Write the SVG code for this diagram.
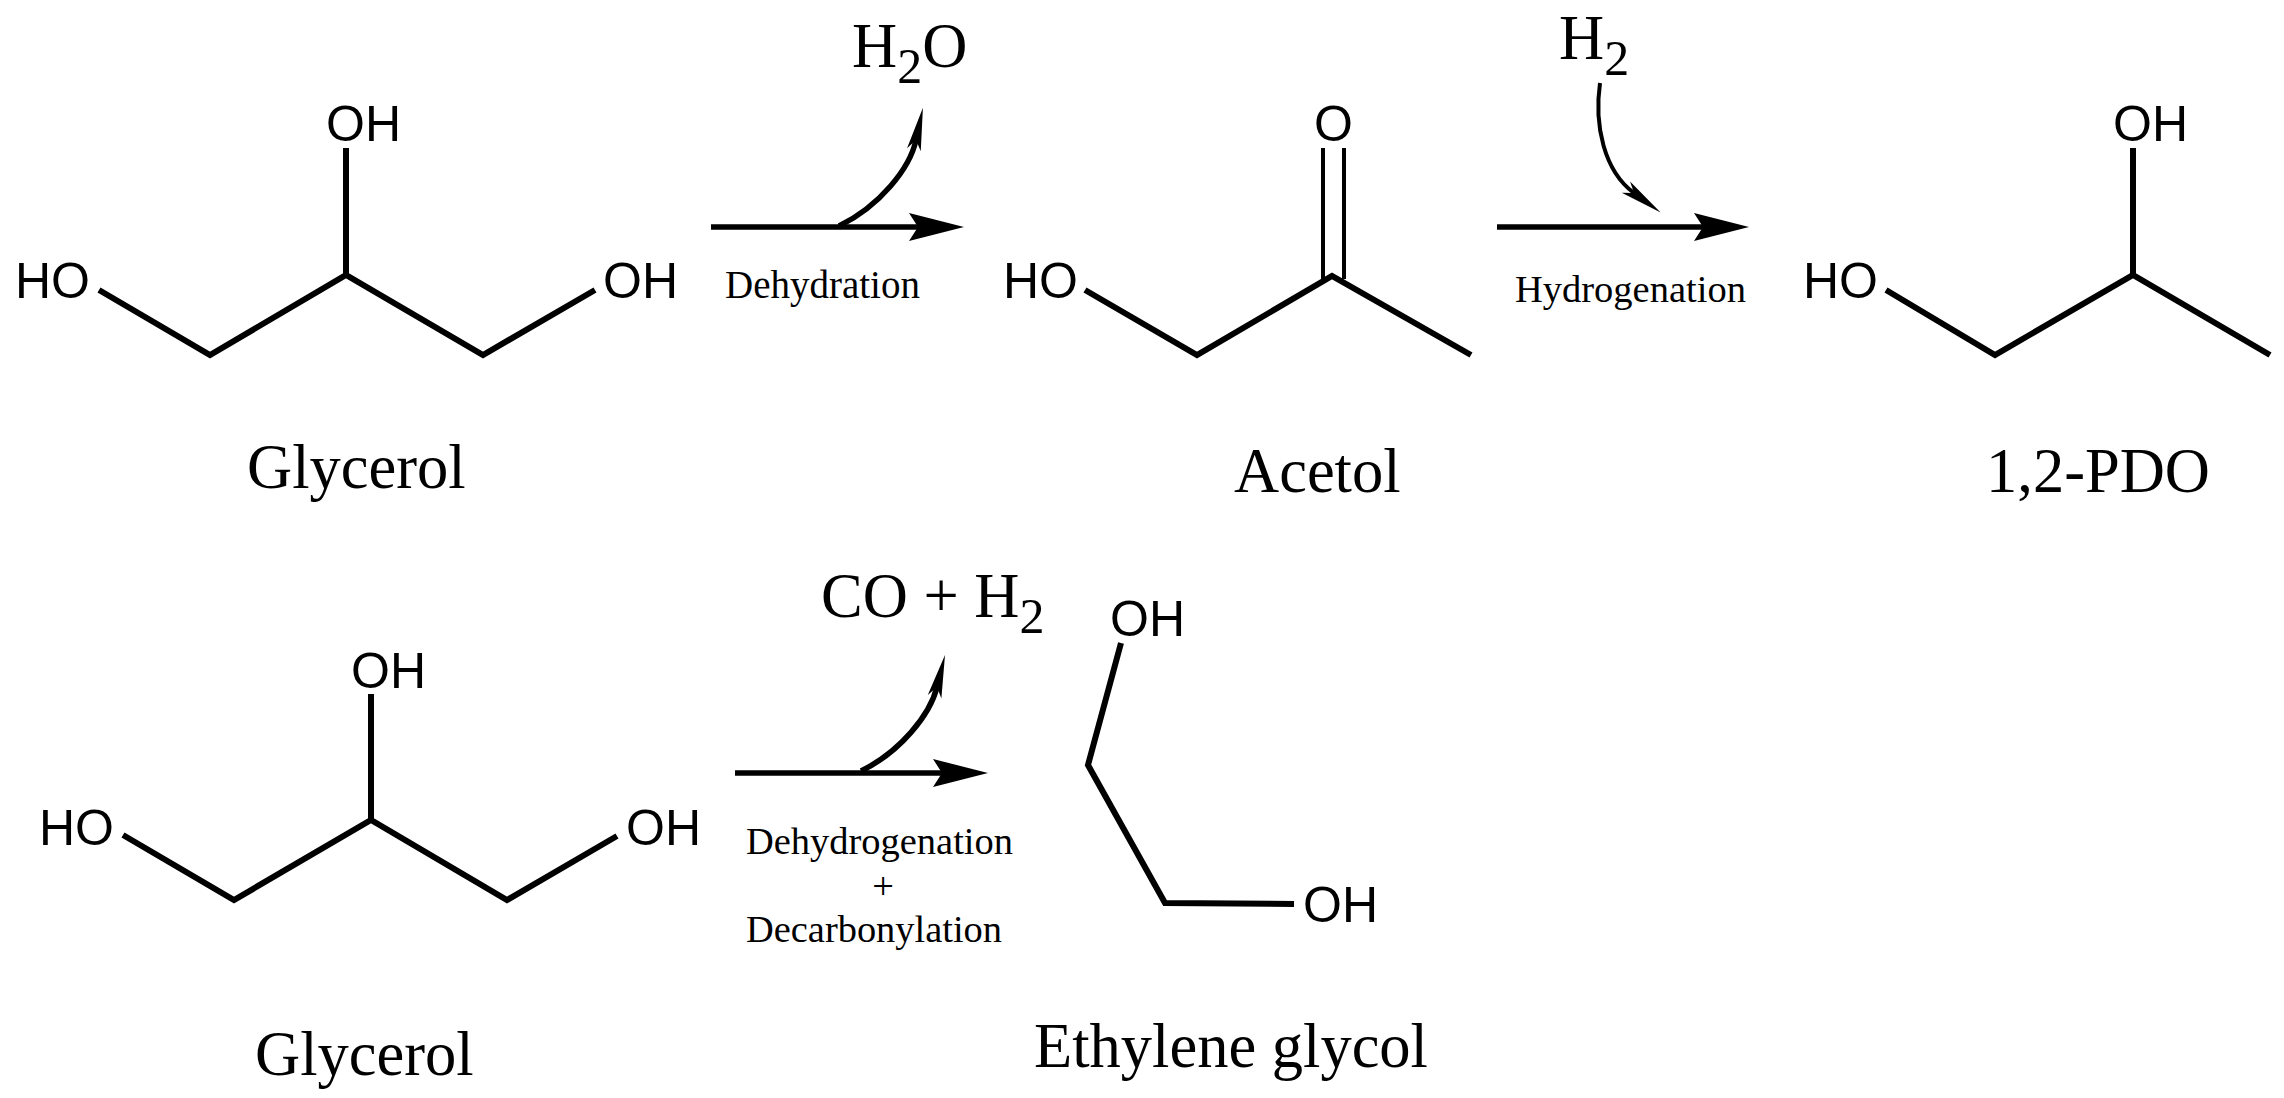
<svg xmlns="http://www.w3.org/2000/svg" width="2284" height="1098" viewBox="0 0 2284 1098">
<style>
.bond{fill:none;stroke:#000;stroke-width:6;stroke-linejoin:miter;stroke-linecap:butt}
.thin{fill:none;stroke:#000;stroke-width:4}
.atom{font-family:"Liberation Sans",Arial,sans-serif;font-size:50px;fill:#000}
.name{font-family:"Liberation Serif","Times New Roman",serif;font-size:62.5px;fill:#000}
.sub{font-family:"Liberation Serif","Times New Roman",serif;font-size:50px;fill:#000}
.step{font-family:"Liberation Serif","Times New Roman",serif;font-size:38.5px;fill:#000}
.main{fill:none;stroke:#000;stroke-width:5.5;marker-end:url(#head)}
.curve{fill:none;stroke:#000;stroke-width:5.5;marker-end:url(#barb)}
.curve-thin{fill:none;stroke:#000;stroke-width:4;marker-end:url(#barb)}
</style>
<defs>
<marker id="head" markerUnits="userSpaceOnUse" markerWidth="64" markerHeight="32" viewBox="-10 -16 64 32" refX="0" refY="0" orient="auto" overflow="visible"><path d="M-9,-14 L46,0 L-9,14 L0,0Z" fill="#000"/></marker>
<marker id="barb" markerUnits="userSpaceOnUse" markerWidth="60" markerHeight="24" viewBox="-12 -12 60 24" refX="0" refY="0" orient="auto" overflow="visible"><path d="M-10,-7 L33,0 L-10,7 L0,0Z" fill="#000"/></marker>
</defs>
<rect width="2284" height="1098" fill="#fff"/>
<g id="connectors">
<path class="main" d="M711,227H918"/>
<path class="curve" d="M839,226C880,206 910,168 916,140"/>
<path class="main" d="M1497,227H1703"/>
<path class="curve-thin" d="M1600,83C1594,125 1604,171 1634,193"/>
<path class="main" d="M735,773H942"/>
<path class="curve" d="M861,771C900,752 930,715 937,687"/>
</g>
<g id="glycerol-1">
<path class="bond" d="M99,290L210,355L346,275L483,355L595,290M346,275V148"/>
<text class="atom" x="15" y="298">HO</text>
<text class="atom" x="603" y="298">OH</text>
<text class="atom" x="326" y="141">OH</text>
<text class="name" x="247" y="488">Glycerol</text>
</g>
<g id="water">
<text class="name" x="852" y="67">H<tspan class="sub" dy="16">2</tspan><tspan dy="-16">O</tspan></text>
</g>
<text class="step" x="725" y="298" style="font-size:39px">Dehydration</text>
<g id="acetol">
<path class="bond" d="M1085,290L1197,355L1332,276L1471,355"/>
<path class="thin" d="M1323,148V279M1344,148V279"/>
<text class="atom" x="1003" y="298">HO</text>
<text class="atom" x="1314" y="141">O</text>
<text class="name" x="1234" y="492">Acetol</text>
</g>
<g id="hydrogen">
<text class="name" x="1559" y="59">H<tspan class="sub" dy="16">2</tspan></text>
</g>
<text class="step" x="1515" y="302">Hydrogenation</text>
<g id="pdo">
<path class="bond" d="M1886,290L1995,355L2133,275L2270,355M2133,275V148"/>
<text class="atom" x="1803" y="298">HO</text>
<text class="atom" x="2113" y="141">OH</text>
<text class="name" x="1986" y="492">1,2-PDO</text>
</g>
<g id="glycerol-2">
<path class="bond" d="M123,835L234,900L371,820L507,900L617,836M371,820V694"/>
<text class="atom" x="39" y="845">HO</text>
<text class="atom" x="626" y="845">OH</text>
<text class="atom" x="351" y="688">OH</text>
<text class="name" x="255" y="1075">Glycerol</text>
</g>
<g id="co-h2">
<text class="name" x="821" y="617">CO + H<tspan class="sub" dy="16">2</tspan></text>
</g>
<g id="step-3">
<text class="step" x="746" y="854" textLength="267" lengthAdjust="spacingAndGlyphs">Dehydrogenation</text>
<text class="step" x="883" y="899" text-anchor="middle">+</text>
<text class="step" x="746" y="942" textLength="256" lengthAdjust="spacingAndGlyphs">Decarbonylation</text>
</g>
<g id="ethylene-glycol">
<path class="bond" d="M1121,643L1088,765L1165,903L1294,904"/>
<text class="atom" x="1110" y="636">OH</text>
<text class="atom" x="1303" y="922">OH</text>
<text class="name" x="1034" y="1067">Ethylene glycol</text>
</g>
</svg>
